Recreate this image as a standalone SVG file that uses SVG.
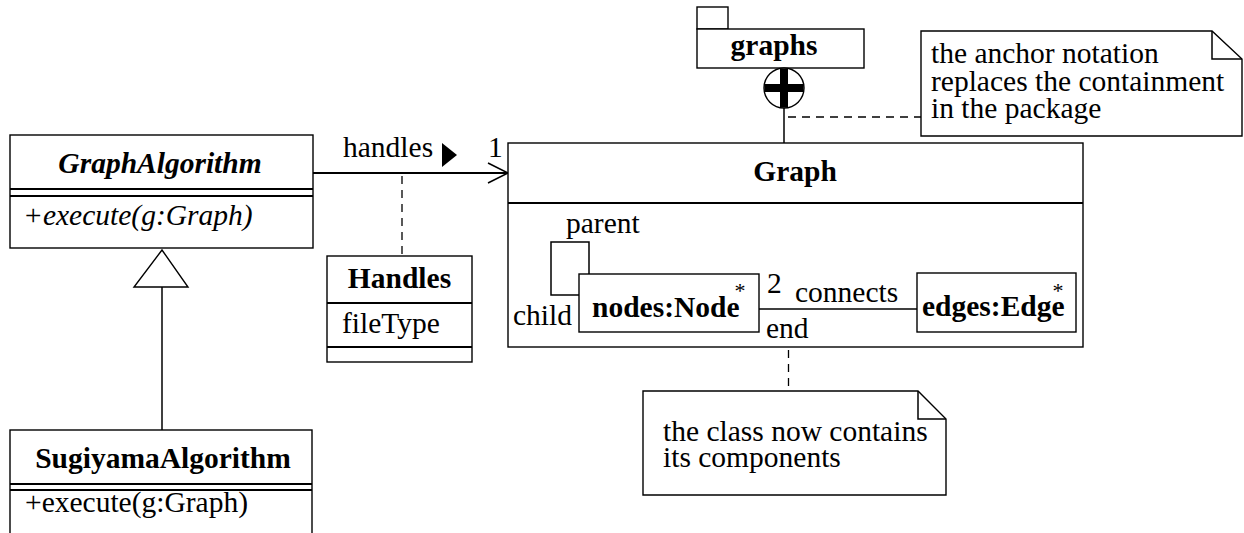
<svg xmlns="http://www.w3.org/2000/svg" width="1244" height="533" viewBox="0 0 1244 533" font-family="'Liberation Serif', 'Times New Roman', 'DejaVu Serif', serif">
<style>
text{font-family:'Liberation Serif','Times New Roman','DejaVu Serif',serif;font-size:29.5px;fill:#000}
.b{font-weight:bold}
.i{font-style:italic}
.bi{font-weight:bold;font-style:italic}
.m{text-anchor:middle}
.box{fill:#fff;stroke:#000;stroke-width:1.4}
.sep{stroke:#000;stroke-width:2;fill:none}
.ln{stroke:#000;stroke-width:1.5;fill:none}
.dash{stroke:#000;stroke-width:1.3;fill:none;stroke-dasharray:8 6}
.star{font-size:22px;font-weight:normal}
</style>
<rect width="1244" height="533" fill="#fff"/>
<g id="connectors">
<line class="ln" x1="162" y1="287" x2="162" y2="430"/>
<polygon points="162,250 134,287 188,287" fill="#fff" stroke="#000" stroke-width="1.4"/>
<line x1="313" y1="173" x2="508" y2="173" stroke="#000" stroke-width="2"/>
<polyline points="488,163 508,173 488,183" fill="none" stroke="#000" stroke-width="1.5"/>
<line class="dash" x1="402" y1="176" x2="402" y2="256"/>
<line class="ln" x1="784" y1="108" x2="784" y2="143"/>
<line class="dash" x1="788" y1="117" x2="921" y2="117"/>
<line class="dash" x1="788.5" y1="350" x2="788.5" y2="391"/>
</g>
<g id="assoc-labels">
<text x="343" y="157">handles</text>
<polygon points="442,143 457,155 442,167" fill="#000"/>
<text x="488" y="157">1</text>
</g>
<g id="GraphAlgorithm">
<rect class="box" x="10" y="135" width="303" height="113"/>
<line class="sep" x1="10" y1="189" x2="313" y2="189"/>
<line class="sep" x1="10" y1="196" x2="313" y2="196"/>
<text class="bi m" x="160" y="173">GraphAlgorithm</text>
<text class="i" x="23" y="225">+execute(g:Graph)</text>
</g>
<g id="SugiyamaAlgorithm">
<rect class="box" x="10" y="430" width="302" height="120"/>
<line class="sep" x1="10" y1="484" x2="312" y2="484"/>
<line class="sep" x1="10" y1="490" x2="312" y2="490"/>
<text class="b m" x="163" y="468">SugiyamaAlgorithm</text>
<text x="25" y="512">+execute(g:Graph)</text>
</g>
<g id="Handles">
<rect class="box" x="327" y="256" width="145" height="106"/>
<line class="sep" x1="327" y1="303" x2="472" y2="303"/>
<line class="sep" x1="327" y1="347" x2="472" y2="347"/>
<text class="b m" x="399.5" y="288">Handles</text>
<text x="342" y="333">fileType</text>
</g>
<g id="graphs">
<rect class="box" x="697" y="7" width="31" height="22"/>
<rect class="box" x="697" y="29" width="167" height="39"/>
<text class="b m" x="774" y="55">graphs</text>
</g>
<g id="anchor">
<circle cx="784" cy="88" r="20" fill="#fff" stroke="#000" stroke-width="1.4"/>
<line x1="784" y1="68.5" x2="784" y2="107.5" stroke="#000" stroke-width="8"/>
<line x1="764.5" y1="88" x2="803.5" y2="88" stroke="#000" stroke-width="8"/>
</g>
<g id="Graph">
<rect class="box" x="508" y="143" width="575" height="204"/>
<line class="sep" x1="508" y1="203" x2="1083" y2="203"/>
<text class="b m" x="795" y="181">Graph</text>
<path class="ln" d="M589,274 V242 H551 V295 H579"/>
<text x="566" y="233">parent</text>
<text x="513" y="325">child</text>
<line class="ln" x1="759" y1="309" x2="917" y2="309" stroke-width="2"/>
<text x="767" y="293">2</text>
<text x="795" y="302">connects</text>
<text x="766" y="338">end</text>
</g>
<g id="nodes">
<rect class="box" x="579" y="274" width="180" height="58"/>
<text class="b" x="592" y="317">nodes:Node<tspan class="star" dx="-5" dy="-19">*</tspan></text>
</g>
<g id="edges">
<rect class="box" x="917" y="273" width="159" height="59"/>
<text class="b" x="922" y="316">edges:Edge<tspan class="star" dx="-12" dy="-18">*</tspan></text>
</g>
<g id="note-anchor">
<polygon class="box" points="921,31 1212,31 1242,59 1242,136 921,136"/>
<polyline class="ln" points="1212,31 1212,59 1242,59" stroke-width="1.3"/>
<text x="931" y="63">the anchor notation<tspan x="931" dy="27.5">replaces the containment</tspan><tspan x="931" dy="27.5">in the package</tspan></text>
</g>
<g id="note-class">
<polygon class="box" points="643,391 918,391 946,419 946,495 643,495"/>
<polyline class="ln" points="918,391 918,419 946,419" stroke-width="1.3"/>
<text x="663" y="441">the class now contains<tspan x="663" dy="26">its components</tspan></text>
</g>
</svg>
